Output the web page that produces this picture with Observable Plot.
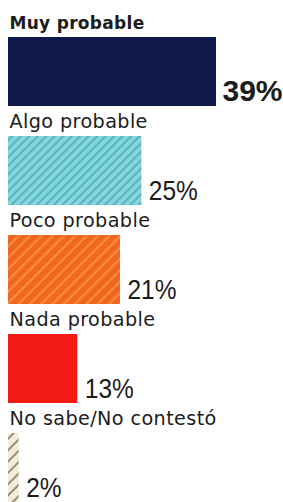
<!DOCTYPE html>
<html><head><meta charset="utf-8">
<script src="https://cdn.jsdelivr.net/npm/d3@7"></script>
<script src="https://cdn.jsdelivr.net/npm/@observablehq/plot@0.6"></script>
<style>body{margin:0;background:#fff;overflow:hidden}</style>
</head><body><div id="chart"></div>
<script>
const categories = ["Muy probable","Algo probable","Poco probable","Nada probable","No sabe/No contestó"];
const values = [39,25,21,13,2];
const valueLabels = ["39%","25%","21%","13%","2%"];
const fills = ["#0f1a4a","url(#hatchCyan)","url(#hatchOrange)","#f21b16","url(#hatchTan)"];
const emphasis = [true,false,false,false,false];

const data = categories.map((c,i)=>({category:c, value:values[i], label:valueLabels[i], fill:fills[i], bold:emphasis[i]}));
const boldRows = data.filter(d=>d.bold);
const plainRows = data.filter(d=>!d.bold);

const chart = Plot.plot({
  width:283, height:502, margin:0,
  style:{overflow:"hidden", background:"#fff"},
  x:{domain:[0,39], range:[8,216], axis:null},
  y:{domain:categories, range:[35,504], paddingInner:0.298, paddingOuter:0, axis:null},
  color:{type:"identity"},
  marks:[
    Plot.barX(data,{x1:0, x2:"value", y:"category", fill:"fill"}),
    Plot.text(boldRows,{x:0, y:"category", text:"category", textAnchor:"start", lineAnchor:"bottom", dx:1, dy:-43, fontSize:17, fontWeight:"bold", fontFamily:"DejaVu Sans", fill:"#1c1c1c", className:"lab-bold"}),
    Plot.text(plainRows,{x:0, y:"category", text:"category", textAnchor:"start", lineAnchor:"bottom", dx:1, dy:-43, fontSize:19.2, fontFamily:"DejaVu Sans", fill:"#1c1c1c", className:"lab-plain"}),
    Plot.text(boldRows,{x:"value", y:"category", text:"label", textAnchor:"start", lineAnchor:"bottom", dx:6, dy:29, fontSize:30, fontWeight:"bold", fontFamily:"Liberation Sans", fill:"#1c1c1c"}),
    Plot.text(plainRows,{x:"value", y:"category", text:"label", textAnchor:"start", lineAnchor:"bottom", dx:7, dy:29, fontSize:28.5, fontFamily:"Liberation Sans", fill:"#1c1c1c", className:"vals"})
  ]
});

const svg = d3.select(chart);
svg.selectAll(".lab-bold text").style("letter-spacing","0.3px");
svg.selectAll(".lab-plain text").style("letter-spacing","0.4px");
svg.selectAll(".vals text").attr("transform", function(){ return this.getAttribute("transform") + " scale(0.86,1)"; });

const defs = svg.insert("defs", ":first-child");
function hatch(id, bg, fg, size, sw){
  const p = defs.append("pattern").attr("id", id).attr("patternUnits","userSpaceOnUse")
    .attr("width", size).attr("height", size).attr("patternTransform","rotate(45)");
  p.append("rect").attr("width", size).attr("height", size).attr("fill", bg);
  p.append("line").attr("x1", size/2).attr("x2", size/2).attr("y1", 0).attr("y2", size)
    .attr("stroke", fg).attr("stroke-width", sw);
}
hatch("hatchCyan", "#84d6de", "#45a3b2", 6, 1.4);
hatch("hatchOrange", "#f2651e", "#f78a34", 8, 2.5);
hatch("hatchTan", "#f1ecdc", "#8e8668", 8, 1.8);

document.getElementById("chart").append(chart);
</script>
</body></html>
